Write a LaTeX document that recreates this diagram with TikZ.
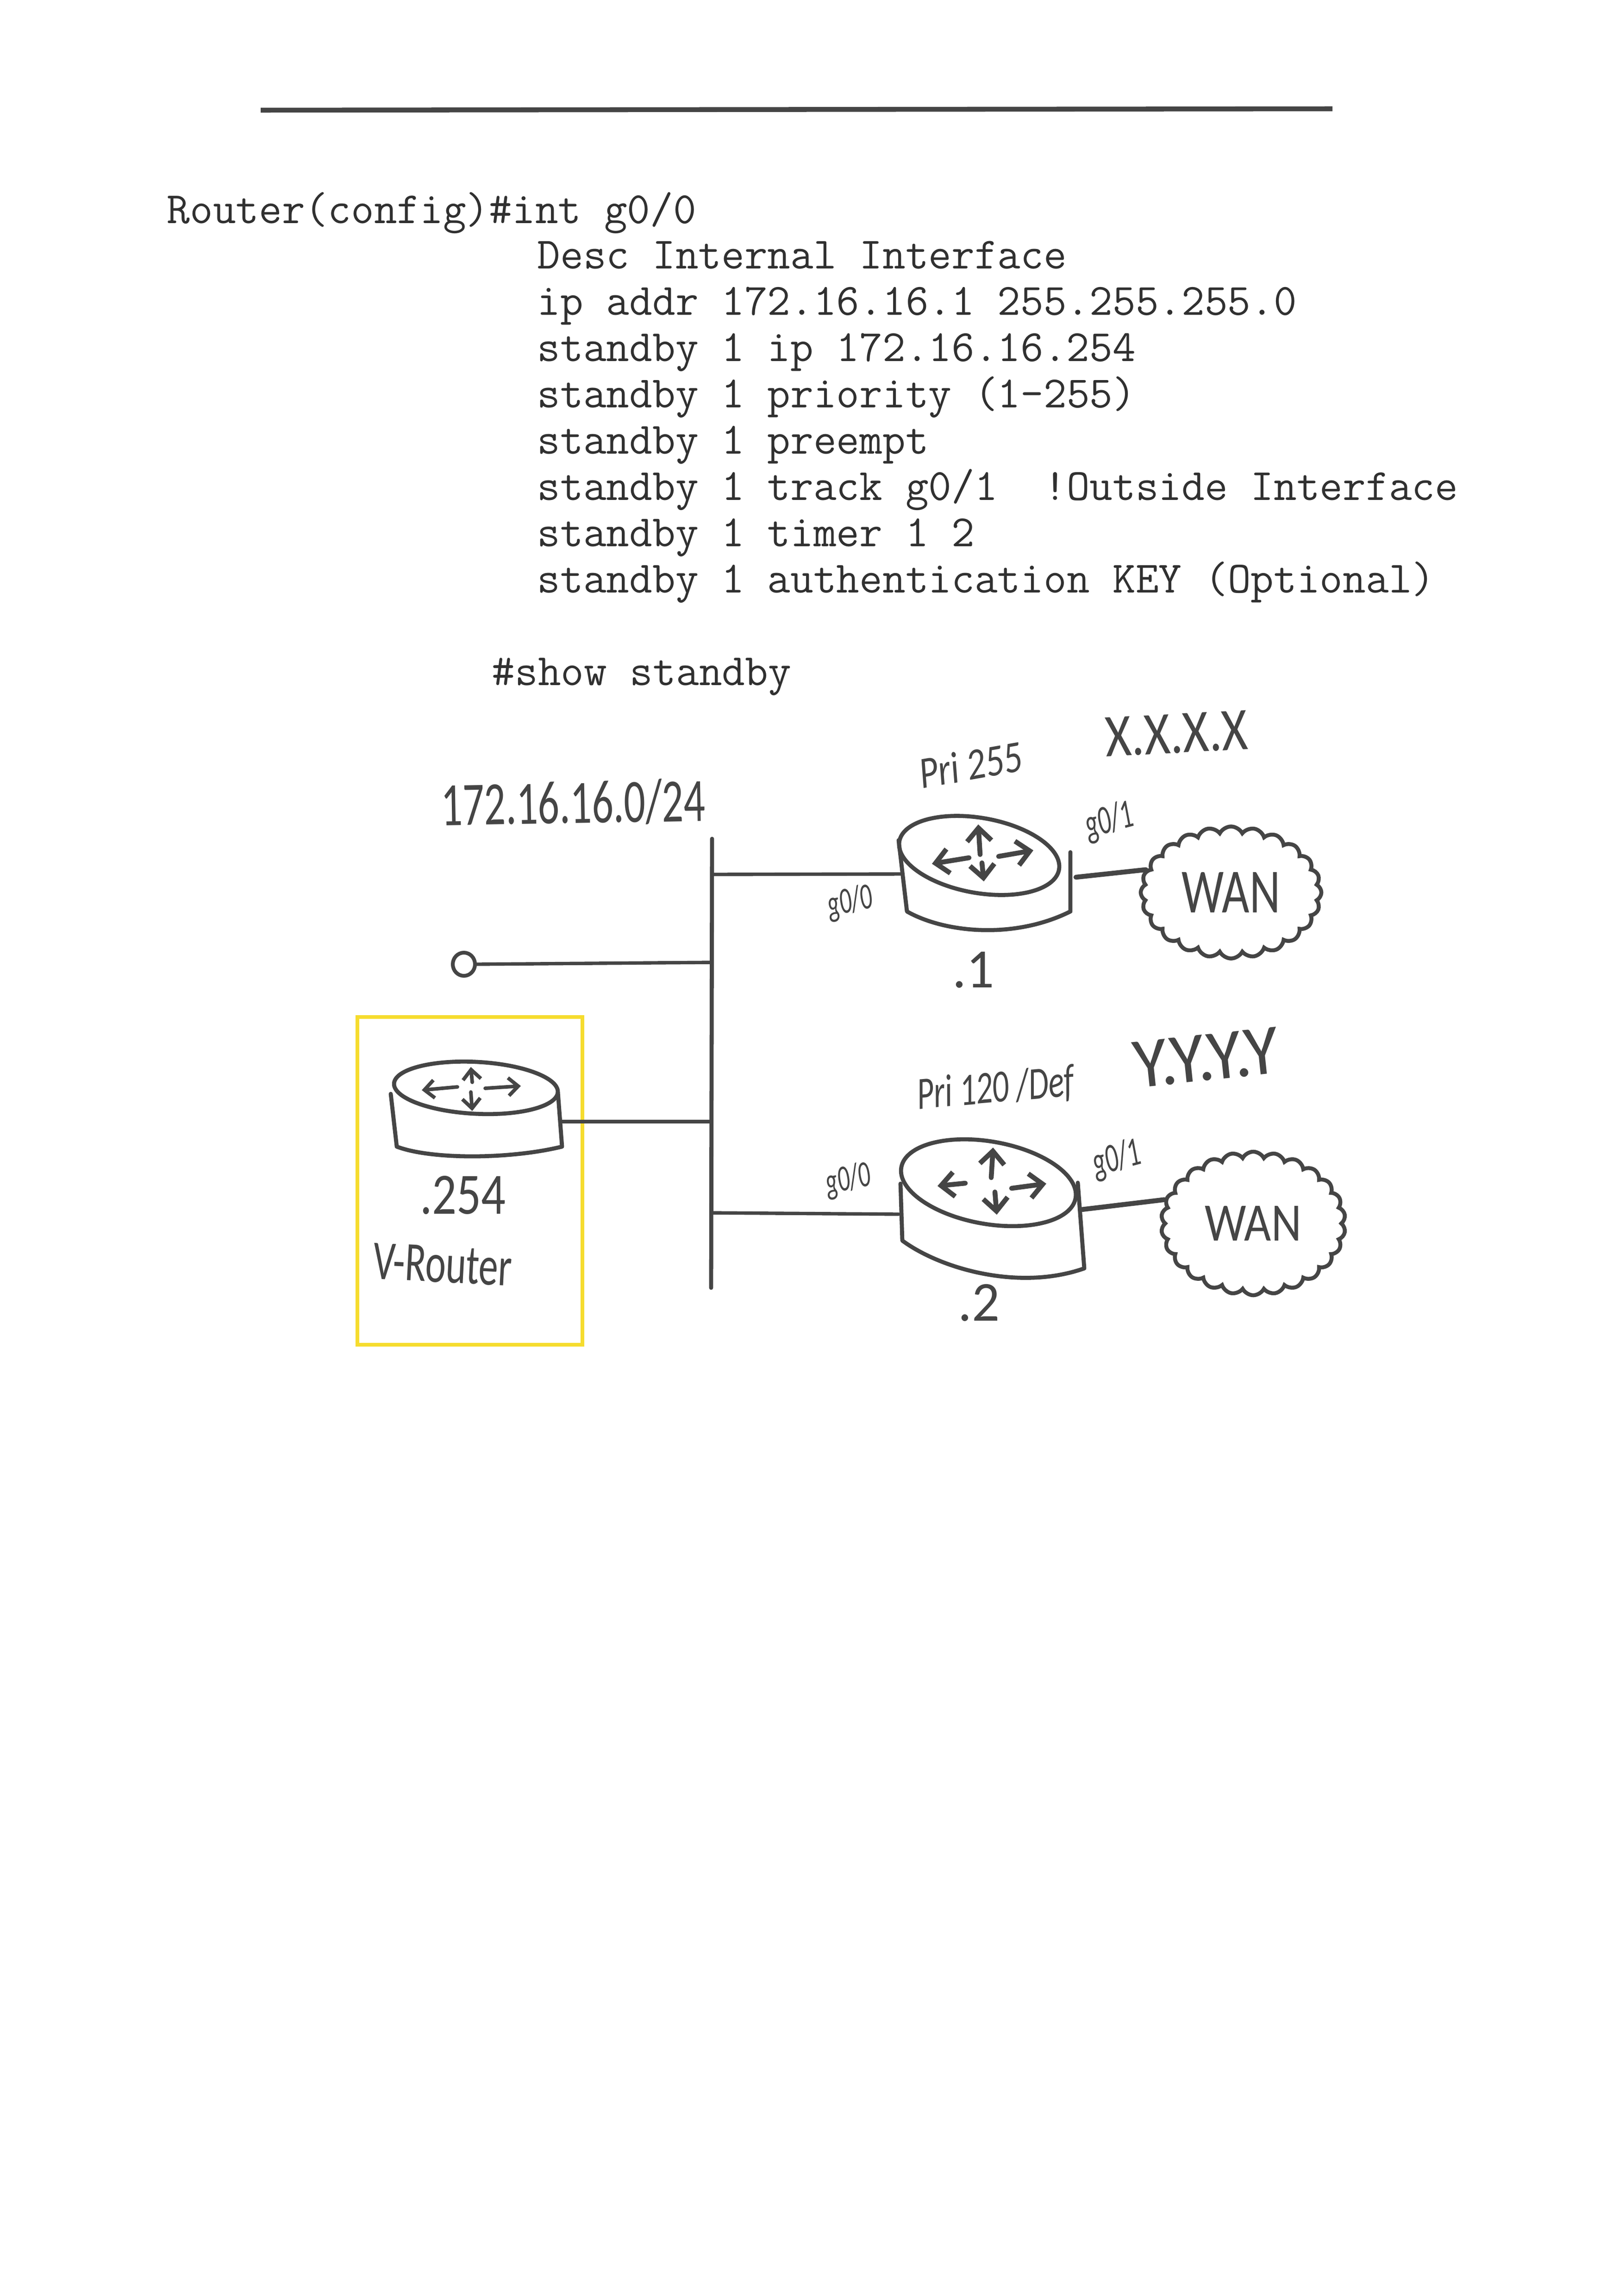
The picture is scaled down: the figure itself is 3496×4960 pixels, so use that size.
\documentclass[tikz,border=0pt]{standalone}
\usepackage{fontspec}
\usepackage{graphicx}
\usetikzlibrary{arrows.meta,shapes.geometric,shapes.symbols}
\newfontfamily\handfont{Carlito}
\newcommand{\hwtext}[3]{\resizebox*{#1}{#2}{\handfont #3}}
\newcommand{\hwslant}[3]{\resizebox*{#1}{#2}{\handfont\itshape #3}}
\definecolor{ink}{HTML}{454545}
\definecolor{typed}{HTML}{303030}
\definecolor{marker}{HTML}{F6DC2E}
\tikzset{
  pen/.style={draw=ink,line width=2.5pt,line cap=round,line join=round},
  thinpen/.style={draw=ink,line width=2.1pt,line cap=round},
  typedline/.style={anchor=base west,inner sep=0pt,text=typed,font=\fontsize{27.45pt}{30pt}\selectfont\ttfamily},
  hand/.style={inner sep=0pt,text=ink},
  routertop/.style={draw=ink,line width=2.5pt,ellipse,inner sep=0pt},
  arr/.style={pen,line width=3pt,-{Straight Barb[length=8pt,width=15pt]}},
  arrsmall/.style={pen,line width=2.2pt,-{Straight Barb[length=6pt,width=11pt]}},
  wancloud/.style={draw=ink,line width=2.4pt,cloud,cloud ignores aspect,inner sep=0pt,text=ink},
}
\begin{document}
\begin{tikzpicture}[x=0.01cm,y=-0.01cm]
\useasboundingbox (0,0) rectangle (3496,4960);
\fill[white] (0,0) rectangle (3496,4960);

% top rule
\coordinate (ruleL) at (563,238);
\coordinate (ruleR) at (2878,235);
\draw[draw=ink,line width=3pt] (ruleL) -- (ruleR);

% typed configuration
\node[typedline] (l0) at (360,482) {Router(config)\#int g0/0};
\node[typedline] (l1) at (1160,580) {Desc Internal Interface};
\node[typedline] (l2) at (1160,680) {ip addr 172.16.16.1 255.255.255.0};
\node[typedline] (l3) at (1160,780) {standby 1 ip 172.16.16.254};
\node[typedline] (l4) at (1160,880) {standby 1 priority (1-255)};
\node[typedline] (l5) at (1160,980) {standby 1 preempt};
\node[typedline] (l6) at (1160,1080) {standby 1 track g0/1\ \ !Outside Interface};
\node[typedline] (l7) at (1160,1180) {standby 1 timer 1 2};
\node[typedline] (l8) at (1160,1280) {standby 1 authentication KEY (Optional)};
\node[typedline] (l9) at (1062,1480) {\#show standby};

% network label and bus
\node[hand,rotate=1] (net) at (1238,1735) {\hwtext{5.7cm}{0.98cm}{172.16.16.0/24}};
\coordinate (busT) at (1538,1812);
\coordinate (busB) at (1536,2782);
\draw[pen] (busT) -- (busB);
\coordinate (busA) at (1538,1889);
\coordinate (busH) at (1537,2079);
\coordinate (busV) at (1537,2423);
\coordinate (busC) at (1537,2620);

% host stub
\node[draw=ink,line width=2.3pt,ellipse,minimum width=0.48cm,minimum height=0.5cm,inner sep=0pt] (host) at (1002,2083) {};
\draw[thinpen] (host.east) -- (busH);

% yellow box
\node[draw=marker,line width=2.2pt,rectangle,minimum width=4.86cm,minimum height=7.07cm,inner sep=0pt] (vbox) at (1015,2551) {};

% virtual router
\coordinate (vSL) at (844,2363);
\coordinate (vSLb) at (857,2477);
\coordinate (vSR) at (1205,2359);
\coordinate (vSRb) at (1214,2477);
\coordinate (vP) at (1214,2423);
\draw[pen] (vSL) -- (vSLb) .. controls (930,2505) and (1100,2505) .. (vSRb) -- (vSR);
\node[routertop,rotate=-3,minimum width=3.54cm,minimum height=1.12cm] (vtop) at (1028,2350) {};
\draw[arrsmall] (988,2348) -- (911,2355);
\draw[arrsmall] (1048,2351) -- (1125,2346);
\draw[arrsmall] (1020,2338) -- (1017,2305);
\draw[arrsmall] (1017,2359) -- (1020,2400);
\draw[thinpen] (vP) -- (busV);
\node[hand] (v254) at (1000,2582) {\hwtext{1.85cm}{0.83cm}{.254}};
\node[hand,rotate=-3] (vname) at (956,2732) {\hwtext{3.0cm}{0.78cm}{V-Router}};

% router 1
\coordinate (r1W) at (1945,1888);
\coordinate (r1E) at (2324,1895);
\draw[pen] (1941,1815) -- (1959,1969) .. controls (2040,2015) and (2190,2030) .. (2312,1969) -- (2312,1841);
\node[routertop,rotate=-10,minimum width=3.5cm,minimum height=1.62cm] (r1top) at (2115,1848) {};
\draw[arr] (2117,1846) -- (2113,1781);
\draw[arr] (2093,1853) -- (2013,1866);
\draw[arr] (2157,1850) -- (2232,1837);
\draw[arr] (2121,1864) -- (2125,1904);
\draw[thinpen] (busA) -- (r1W);

% WAN 1
\node[wancloud,cloud puffs=24,cloud puff arc=125,minimum width=3.9cm,minimum height=2.85cm] (wan1) at (2659,1928) {\hwtext{2.12cm}{0.87cm}{WAN}};
\draw[pen,line width=3pt] (r1E) -- (wan1.165);

% router 1 labels
\node[hand,rotate=10] (p1) at (2096,1652) {\hwslant{2.23cm}{0.67cm}{Pri 255}};
\node[hand,rotate=3] (x1) at (2541,1585) {\hwtext{3.08cm}{0.85cm}{X.X.X.X}};
\node[hand] (d1) at (2103,2095) {\hwtext{0.9cm}{0.78cm}{.1}};
\node[hand,rotate=12] (g00a) at (1836,1950) {\hwslant{0.98cm}{0.68cm}{g0/0}};
\node[hand,rotate=15] (g01a) at (2396,1775) {\hwslant{1.05cm}{0.75cm}{g0/1}};

% router 2
\coordinate (r2W) at (1941,2623);
\coordinate (r2E) at (2336,2613);
\draw[pen] (1945,2557) -- (1949,2680) .. controls (2030,2740) and (2200,2790) .. (2342,2740) -- (2328,2555);
\node[routertop,rotate=-10,minimum width=3.82cm,minimum height=1.78cm] (r2top) at (2135,2555) {};
\draw[arr] (2141,2544) -- (2145,2479);
\draw[arr] (2085,2556) -- (2025,2562);
\draw[arr] (2185,2567) -- (2260,2557);
\draw[arr] (2149,2575) -- (2153,2624);
\draw[thinpen] (busC) -- (r2W);

% WAN 2
\node[wancloud,cloud puffs=26,cloud puff arc=125,minimum width=3.98cm,minimum height=3.1cm] (wan2) at (2707,2643) {\hwtext{2.08cm}{0.75cm}{WAN}};
\draw[pen,line width=3pt] (r2E) -- (wan2.165);

% router 2 labels
\node[hand,rotate=5] (p2) at (2150,2353) {\hwslant{3.4cm}{0.8cm}{Pri 120 /Def}};
\node[hand,rotate=6] (y2) at (2605,2285) {\hwtext{3.15cm}{1.0cm}{Y.Y.Y.Y}};
\node[hand] (d2) at (2115,2814) {\hwtext{0.9cm}{0.8cm}{.2}};
\node[hand,rotate=12] (g00b) at (1832,2550) {\hwslant{0.98cm}{0.68cm}{g0/0}};
\node[hand,rotate=15] (g01b) at (2412,2505) {\hwslant{1.05cm}{0.75cm}{g0/1}};
\end{tikzpicture}
\end{document}
